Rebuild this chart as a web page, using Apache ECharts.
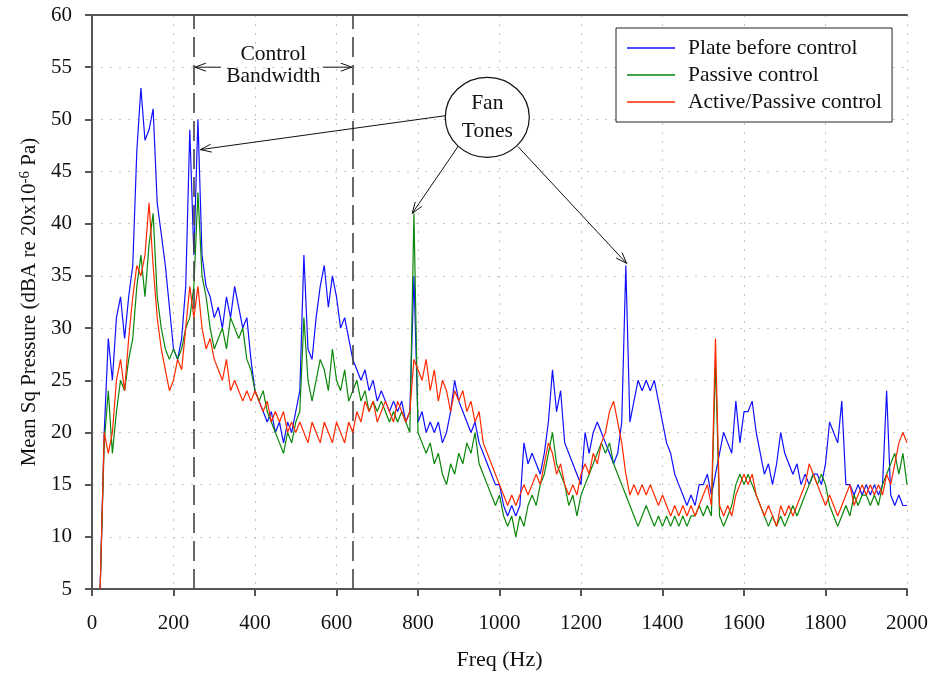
<!DOCTYPE html>
<html>
<head>
<meta charset="utf-8">
<script src="https://cdn.jsdelivr.net/npm/echarts@6/dist/echarts.min.js"></script>
<style>
  html, body { margin: 0; padding: 0; background: #fff; }
  #container { width: 933px; height: 676px; }
</style>
</head>
<body>
<div id="container"></div>
<script>
var freqStart = 20
var freqStep = 10

// Plate before control
var plateBefore = [
  5, 20, 29, 25, 31, 33, 29, 33, 36,
  47, 53, 48, 49, 51, 42, 39, 36, 32, 28,
  27, 29, 34, 49, 37, 50, 37, 34, 33, 31,
  32, 30, 33, 31, 34, 32, 30, 31, 27, 24,
  23, 22, 21, 22, 20, 21, 19, 21, 20, 22,
  24, 37, 28, 27, 31, 34, 36, 32, 35, 33,
  30, 31, 29, 27, 26, 25, 26, 24, 25, 23,
  24, 23, 22, 23, 22, 23, 21, 22, 35, 21,
  22, 20, 21, 20, 21, 19, 20, 22, 25, 23,
  22, 21, 20, 21, 19, 18, 17, 16, 15, 15,
  13, 12, 13, 12, 13, 19, 17, 18, 17, 16,
  18, 21, 26, 22, 24, 19, 18, 17, 16, 15,
  20, 18, 20, 21, 20, 19, 18, 17, 18, 21,
  36, 21, 23, 25, 24, 25, 24, 25, 23, 21,
  19, 18, 16, 15, 14, 13, 14, 13, 15, 15,
  16, 14, 16, 18, 20, 19, 18, 23, 19, 22,
  22, 23, 20, 18, 16, 17, 15, 17, 20, 18,
  17, 16, 17, 15, 16, 15, 16, 16, 15, 17,
  21, 20, 19, 23, 15, 15, 14, 15, 14, 15,
  14, 15, 14, 15, 24, 14, 13, 14, 13, 13
]

// Passive control
var passive = [
  5, 19, 24, 18, 22, 25, 24, 27, 29,
  34, 37, 33, 38, 41, 33, 30, 28, 27, 28,
  27, 28, 30, 31, 34, 43, 35, 33, 30, 28,
  29, 30, 28, 31, 30, 29, 30, 27, 26, 24,
  23, 24, 22, 21, 20, 19, 18, 20, 19, 21,
  22, 31, 25, 23, 25, 27, 26, 24, 28, 25,
  24, 26, 23, 24, 25, 23, 24, 22, 23, 22,
  23, 22, 21, 22, 21, 22, 21, 20, 41, 20,
  19, 18, 19, 17, 18, 16, 15, 17, 16, 18,
  17, 19, 18, 20, 17, 16, 15, 14, 13, 14,
  12, 11, 12, 10, 12, 11, 13, 14, 13, 15,
  16, 18, 20, 17, 16, 15, 13, 14, 12, 14,
  15, 16, 17, 18, 19, 18, 19, 17, 16, 15,
  14, 13, 12, 11, 12, 13, 12, 11, 12, 11,
  12, 11, 12, 11, 12, 11, 12, 12, 13, 12,
  13, 12, 27, 12, 11, 12, 13, 15, 16, 15,
  16, 15, 14, 13, 12, 11, 12, 11, 12, 11,
  12, 13, 12, 13, 14, 15, 16, 15, 16, 15,
  13, 12, 11, 12, 13, 12, 14, 13, 14, 14,
  13, 14, 13, 15, 16, 17, 18, 16, 18, 15
]

// Active/Passive control
var activePassive = [
  5, 20, 18, 20, 25, 27, 24, 29, 33,
  36, 35, 37, 42, 36, 31, 28, 26, 24, 25,
  27, 26, 30, 34, 31, 34, 30, 28, 29, 27,
  26, 25, 27, 24, 25, 24, 23, 24, 23, 24,
  23, 22, 23, 21, 22, 21, 22, 20, 21, 20,
  21, 20, 19, 21, 20, 19, 21, 20, 19, 21,
  20, 19, 21, 20, 22, 21, 23, 22, 23, 21,
  22, 23, 22, 21, 23, 22, 21, 22, 27, 26,
  25, 27, 24, 26, 23, 25, 24, 22, 24, 23,
  24, 22, 23, 21, 22, 19, 18, 17, 16, 15,
  14, 13, 14, 13, 14, 15, 14, 15, 16, 15,
  17, 19, 18, 16, 17, 15, 14, 15, 14, 16,
  17, 16, 18, 17, 19, 20, 22, 23, 21, 19,
  16, 14, 15, 14, 15, 14, 15, 14, 13, 14,
  13, 12, 13, 12, 13, 12, 13, 12, 13, 14,
  15, 13, 29, 13, 12, 13, 12, 14, 15, 16,
  15, 16, 14, 13, 12, 13, 12, 11, 13, 12,
  13, 12, 13, 14, 15, 17, 16, 15, 14, 13,
  14, 13, 12, 13, 14, 15, 13, 14, 15, 14,
  15, 14, 15, 14, 16, 15, 17, 19, 20, 19
]

var seriesNames = ['Plate before control', 'Passive control', 'Active/Passive control']
var seriesColors = ['#1010ff', '#0a870a', '#ff2a00']

// control bandwidth edges (Hz)
var bandEdges = [250, 640]

// fan tone annotation: bubble centre and the tones it points to [freq, dB]
var bubbleCentre = [970, 50.2]
var toneTips = [[266, 47.1], [786, 41.0], [1312, 36.2]]
var toneStarts = [[876, 50.4], [900, 47.5], [1045, 47.4]]

function pairs(values) {
  var out = []
  for (var i = 0; i < values.length; i++) {
    out.push([freqStart + i * freqStep, values[i]])
  }
  return out
}

var serif = 'Liberation Serif'
var chart = echarts.init(document.getElementById('container'))

var lineSeries = [plateBefore, passive, activePassive].map(function(vals, i) {
  return {
    name: seriesNames[i],
    type: 'line',
    data: pairs(vals),
    symbol: 'none',
    lineStyle: { width: 1.2, color: seriesColors[i] },
    itemStyle: { color: seriesColors[i] },
    z: 3 + i,
    animation: false
  }
})

// dashed control bandwidth edges
lineSeries[0].markLine = {
  silent: true,
  symbol: ['none', 'none'],
  label: { show: false },
  lineStyle: { color: '#444', width: 1.6, type: [20, 8] },
  data: bandEdges.map(function(f) { return { xAxis: f } }),
  animation: false
}

// plain axes on the top and right close the frame
var frameX = {
  type: 'value', min: 0, max: 2000, position: 'top',
  axisLine: { show: true, lineStyle: { color: '#555', width: 2 } },
  axisTick: { show: false }, axisLabel: { show: false }, splitLine: { show: false }
}
var frameY = {
  type: 'value', min: 5, max: 60, position: 'right',
  axisLine: { show: true, lineStyle: { color: '#555', width: 2 } },
  axisTick: { show: false }, axisLabel: { show: false }, splitLine: { show: false }
}

chart.setOption({
  backgroundColor: '#fff',
  animation: false,
  grid: { left: 92, right: 26, top: 15, bottom: 87 },
  legend: {
    orient: 'vertical',
    left: 616,
    top: 28,
    padding: [9, 10, 9, 11],
    icon: 'rect',
    itemWidth: 48,
    itemHeight: 1.6,
    itemGap: 5,
    backgroundColor: '#fff',
    borderColor: '#222',
    borderWidth: 1,
    textStyle: { fontFamily: serif, fontSize: 21.5, color: '#111', lineHeight: 22, padding: [0, 0, 0, 8] },
    data: seriesNames
  },
  xAxis: [{
    type: 'value',
    min: 0,
    max: 2000,
    interval: 200,
    name: 'Freq (Hz)',
    nameLocation: 'middle',
    nameGap: 60,
    nameTextStyle: { fontFamily: serif, fontSize: 22, color: '#111' },
    axisLine: { lineStyle: { color: '#555', width: 2 } },
    axisTick: { show: true, length: 7, lineStyle: { color: '#555', width: 2 } },
    axisLabel: { fontFamily: serif, fontSize: 21, color: '#111', margin: 24, formatter: function(v) { return String(v) } },
    splitLine: { show: true, lineStyle: { color: '#c4c4c4', type: [2, 7], width: 1 } }
  }, frameX],
  yAxis: [{
    type: 'value',
    min: 5,
    max: 60,
    interval: 5,
    name: 'Mean Sq Pressure (dBA re 20x10{sup|-6} Pa)',
    nameLocation: 'middle',
    nameRotate: 90,
    nameGap: 47,
    nameTextStyle: {
      fontFamily: serif, fontSize: 21, color: '#111',
      rich: { sup: { fontFamily: serif, fontSize: 15, color: '#111', verticalAlign: 'top', padding: [0, 0, 9, 0] } }
    },
    axisLine: { show: true, lineStyle: { color: '#555', width: 2 } },
    axisTick: { show: true, length: 7, lineStyle: { color: '#555', width: 2 } },
    axisLabel: { fontFamily: serif, fontSize: 21, color: '#111', margin: 20 },
    splitLine: { show: true, lineStyle: { color: '#c4c4c4', type: [2, 7], width: 1 } }
  }, frameY],
  series: lineSeries
})

// annotations (bandwidth label, fan tone bubble and arrows)
function px(pt) {
  return chart.convertToPixel({ gridIndex: 0 }, pt)
}

function arrow(from, to) {
  var dx = to[0] - from[0]
  var dy = to[1] - from[1]
  var len = Math.sqrt(dx * dx + dy * dy)
  var ux = dx / len
  var uy = dy / len
  var h = 11
  var w = 4
  var a = [to[0] - ux * h - uy * w, to[1] - uy * h + ux * w]
  var b = [to[0] - ux * h + uy * w, to[1] - uy * h - ux * w]
  var style = { stroke: '#111', lineWidth: 1, fill: null }
  return [
    { type: 'line', shape: { x1: from[0], y1: from[1], x2: to[0], y2: to[1] }, style: style, z: 20 },
    { type: 'polyline', shape: { points: [a, to, b] }, style: style, z: 20 }
  ]
}

var left = px([bandEdges[0], 55.0])
var right = px([bandEdges[1], 55.0])
var mid = (left[0] + right[0]) / 2
var elements = []
elements = elements.concat(arrow([left[0] + 27, left[1]], [left[0] + 1, left[1]]))
elements = elements.concat(arrow([right[0] - 30, right[1]], [right[0] - 1, right[1]]))
elements.push({
  type: 'text', z: 20,
  style: {
    x: mid, y: left[1] - 2, text: 'Control\nBandwidth', align: 'center', verticalAlign: 'middle',
    font: '21.5px "Liberation Serif"', lineHeight: 22, fill: '#111'
  }
})

var c = px(bubbleCentre)
elements.push({
  type: 'ellipse', z: 21,
  shape: { cx: c[0], cy: c[1], rx: 42, ry: 40 },
  style: { fill: '#fff', stroke: '#111', lineWidth: 1.2 }
})
elements.push({
  type: 'text', z: 22,
  style: {
    x: c[0], y: c[1], text: 'Fan\nTones', align: 'center', verticalAlign: 'middle',
    font: '21.5px "Liberation Serif"', lineHeight: 28, fill: '#111'
  }
})
for (var i = 0; i < toneTips.length; i++) {
  elements = elements.concat(arrow(px(toneStarts[i]), px(toneTips[i])))
}

chart.setOption({ graphic: { elements: elements } })
</script>
</body>
</html>
